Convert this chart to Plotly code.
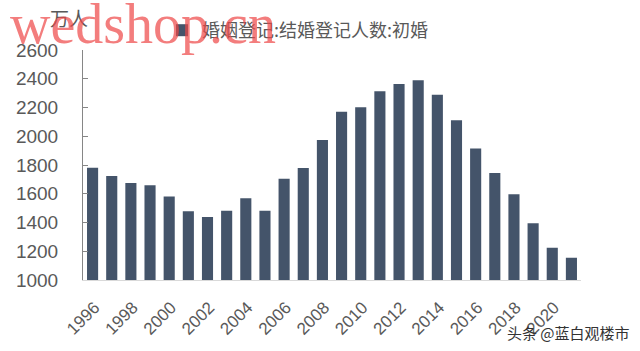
import plotly.graph_objects as go

years = list(range(1996, 2022))
first_marriages = [1781, 1723, 1675, 1659, 1580, 1478, 1438, 1482, 1568, 1482,
                   1705, 1779, 1974, 2171, 2201, 2313, 2363, 2389, 2289, 2111,
                   1914, 1744, 1596, 1394, 1225, 1155]
series_name = "婚姻登记:结婚登记人数:初婚"
x_tick_vals = list(range(1996, 2021, 2))
y_tick_vals = list(range(1000, 2601, 200))
unit_label = "万人"

font_fam = "Liberation Sans, Arial, Noto Sans CJK SC, sans-serif"

fig = go.Figure()
fig.add_trace(go.Bar(
    x=years, y=first_marriages, name=series_name,
    marker=dict(color="#44546a", line=dict(width=0)),
    width=0.58,
))

fig.update_layout(
    width=640, height=351,
    margin=dict(l=83, r=59, t=50, b=71, autoexpand=False),
    paper_bgcolor="white", plot_bgcolor="white",
    font=dict(family=font_fam, color="#595959", size=18),
    showlegend=True,
    legend=dict(orientation="h", xref="container", yref="container",
                x=162 / 640, y=1 - 12 / 351,
                xanchor="left", yanchor="top",
                font=dict(size=18, color="#595959",
                          family="Noto Sans CJK SC, sans-serif"),
                bgcolor="rgba(0,0,0,0)", itemwidth=30),
)

fig.update_xaxes(
    range=[1995.5, 2021.5], tickmode="array", tickvals=x_tick_vals,
    ticktext=[str(v) for v in x_tick_vals], tickangle=-45,
    showline=True, linecolor="#d9d9d9", linewidth=1,
    showgrid=False, zeroline=False, ticks="",
    tickfont=dict(size=17, color="#595959"), ticklabelshift=2, ticklabelstandoff=10,
)
fig.update_yaxes(
    range=[1000, 2600], tickmode="array", tickvals=y_tick_vals,
    showline=True, linecolor="#868686", linewidth=1,
    ticks="inside", ticklen=5, tickcolor="#868686",
    showgrid=False, zeroline=False,
    tickfont=dict(size=19, color="#595959"), ticklabelstandoff=20,
)

fig.add_annotation(text=unit_label, xref="paper", yref="paper",
                   x=(48 - 83) / 498, y=1 + (50 - 18) / 230, xanchor="left", yanchor="middle",
                   showarrow=False,
                   font=dict(size=19, color="#595959", family="Noto Sans CJK SC, sans-serif"))
fig.add_annotation(text="wedshop.cn", xref="paper", yref="paper",
                   x=(8 - 83) / 498, y=1 + (50 - 24) / 230, xanchor="left", yanchor="middle",
                   showarrow=False,
                   font=dict(size=56, color="rgba(238,70,70,0.7)",
                             family="Liberation Serif, DejaVu Serif, serif"))
fig.add_annotation(text="头条 @蓝白观楼市", xref="paper", yref="paper",
                   x=(632 - 83) / 498, y=-(332 - 280) / 230, xanchor="right", yanchor="middle",
                   showarrow=False,
                   font=dict(size=15, color="#333333", family="Noto Sans CJK SC, sans-serif"))

fig.write_html("out.html")
